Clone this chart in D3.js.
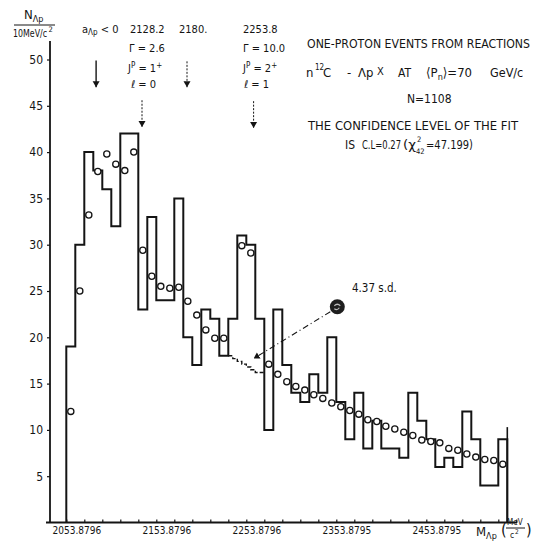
<!DOCTYPE html>
<html>
<head>
<meta charset="utf-8">
<script src="https://cdn.jsdelivr.net/npm/d3@7/dist/d3.min.js"></script>
<style>
  body { margin: 0; background: #fff; }
  svg text { font-family: "DejaVu Sans Condensed", "DejaVu Sans", sans-serif; fill: #141414; }
</style>
</head>
<body>
<svg width="533" height="549"></svg>
<script>
// bins of 10 MeV starting at the Λp threshold
const binStart = 2053.8796
const binWidth = 10
const counts = [19, 30, 40, 38, 36, 32, 42, 42, 23, 33, 24, 24, 35, 20, 17, 23, 22, 18, 22, 31,
  30, 22, 10, 23, 17, 14, 13, 16, 14, 20, 13, 9, 14, 8, 11, 8, 8, 7, 14, 11,
  9, 6, 7, 6, 12, 9, 4, 4, 9]
// fit values (open circles), null = not drawn
const fitValues = [12.0, 25.0, 33.2, 37.9, 39.8, 38.7, 38.0, 40.0, 29.4, 26.6, 25.5, 25.3, 25.4, 23.9, 22.4, 20.8, 19.9, 19.9, null, 29.9,
  29.1, null, 17.1, 16.0, 15.2, 14.7, 14.3, 13.8, 13.4, 12.9, 12.5, 12.1, 11.7, 11.1, 10.9, 10.4, 10.1, 9.75, 9.4, 8.9,
  8.75, 8.6, 8.0, 7.8, 7.4, 7.06, 6.8, 6.7, 6.3]
// background-only fit under the 2253.8 peak, half-bin steps from bin 19
const bgSteps = [18.0, 17.7, 17.4, 17.1, 16.8, 16.5, 16.2, 16.2]
const bgStartBin = 18
// x tick labels
const xLabelMasses = [2053.8796, 2153.8796, 2253.8796, 2353.8796, 2453.8796]
const xLabelTexts = ["2053.8796", "2153.8796", "2253.8796", "2353.8795", "2453.8795"]
const yTickValues = [5, 10, 15, 20, 25, 30, 35, 40, 45, 50]
// arrows at the top: mass, dashed?, top, bottom (in counts)
const arrowMasses = [2087, 2138, 2188, 2262]
const arrowDashed = [false, true, true, true]
const arrowTop = [49.9, 45.6, 49.8, 45.5]
const arrowBottom = [47.0, 42.7, 47.0, 42.6]
// the 4.37 s.d. marker
const blobMass = 2355
const blobValue = 23.3
const pointerEndMass = 2262
const pointerEndValue = 17.7

const svg = d3.select("svg")

const x = d3.scaleLinear()
  .domain([binStart, binStart + binWidth * counts.length])
  .range([66.3, 507.3])

const y = d3.scaleLinear()
  .domain([0, 50])
  .range([522.5, 59.5])

// arrow marker
svg.append("defs").append("marker")
  .attr("id", "head")
  .attr("viewBox", "0 0 6 8")
  .attr("refX", 6).attr("refY", 4)
  .attr("markerWidth", 6).attr("markerHeight", 8)
  .attr("markerUnits", "userSpaceOnUse")
  .attr("orient", "auto")
  .append("path").attr("d", "M0,0.5 L6,4 L0,7.5 z").attr("fill", "#141414")

// axis frame
svg.append("line")
  .attr("x1", 50).attr("x2", 50).attr("y1", y(0)).attr("y2", 41)
  .attr("stroke", "#141414").attr("stroke-width", 1.8)
svg.append("line")
  .attr("x1", 46).attr("x2", 517).attr("y1", y(0)).attr("y2", y(0))
  .attr("stroke", "#141414").attr("stroke-width", 1.8)

// y axis ticks
const axisY = d3.axisLeft(y)
  .tickValues(yTickValues)
  .tickSize(3)
  .tickPadding(4)
svg.append("g")
  .attr("transform", "translate(50,0)")
  .call(axisY)
  .call(g => g.select(".domain").remove())
  .call(g => g.selectAll("line").attr("stroke", "#141414").attr("stroke-width", 1.2))
  .call(g => g.selectAll("text").attr("font-size", 12).attr("fill", "#141414")
    .attr("font-family", "DejaVu Sans Condensed"))

// x axis small ticks every 20 MeV, pointing up
const minorTicks = d3.range(binStart, binStart + 500.1, 20)
svg.append("g")
  .attr("transform", `translate(0,${y(0)})`)
  .call(d3.axisBottom(x).tickValues(minorTicks).tickSize(-3).tickFormat(""))
  .call(g => g.select(".domain").remove())
  .call(g => g.selectAll("line").attr("stroke", "#141414").attr("stroke-width", 1.2))

// x axis labels
svg.append("g")
  .attr("transform", `translate(0,${y(0)})`)
  .call(d3.axisBottom(x).tickValues(xLabelMasses).tickSize(0).tickPadding(4)
    .tickFormat((d, i) => xLabelTexts[i]))
  .call(g => g.select(".domain").remove())
  .call(g => g.selectAll("text").attr("font-size", 10).attr("dx", 10).attr("fill", "#141414")
    .attr("font-family", "DejaVu Sans Condensed"))

// histogram outline
const histPts = [[binStart, 0]]
counts.forEach((c, i) => histPts.push([binStart + i * binWidth, c]))
const binEnd = binStart + counts.length * binWidth
histPts.push([binEnd, counts[counts.length - 1]])
histPts.push([binEnd, 0])

const stepLine = d3.line()
  .x(d => x(d[0]))
  .y(d => y(d[1]))
  .curve(d3.curveStepAfter)

svg.append("path")
  .attr("d", stepLine(histPts))
  .attr("fill", "none")
  .attr("stroke", "#141414")
  .attr("stroke-width", 2)
  .attr("stroke-linejoin", "miter")

// last edge sticks out above the last bin
svg.append("line")
  .attr("x1", x(binEnd)).attr("x2", x(binEnd))
  .attr("y1", y(0)).attr("y2", y(10.3))
  .attr("stroke", "#141414").attr("stroke-width", 1.6)

// background staircase (dashed)
const bgPts = bgSteps.map((v, i) => [binStart + bgStartBin * binWidth + i * binWidth / 2, v])
bgPts.push([binStart + (bgStartBin + bgSteps.length / 2) * binWidth, bgSteps[bgSteps.length - 1]])
svg.append("path")
  .attr("d", stepLine(bgPts))
  .attr("fill", "none")
  .attr("stroke", "#141414")
  .attr("stroke-width", 1.4)
  .attr("stroke-dasharray", "4,2")

// fit circles
svg.append("g")
  .selectAll("circle")
  .data(fitValues.map((v, i) => ({ v, i })).filter(d => d.v !== null))
  .enter()
  .append("circle")
  .attr("cx", d => x(binStart + (d.i + 0.5) * binWidth))
  .attr("cy", d => y(d.v))
  .attr("r", 3.1)
  .attr("fill", "#fff")
  .attr("stroke", "#141414")
  .attr("stroke-width", 1.3)

// significance marker and pointer
svg.append("line")
  .attr("x1", x(blobMass) - 7).attr("y1", y(blobValue) + 5)
  .attr("x2", x(pointerEndMass)).attr("y2", y(pointerEndValue))
  .attr("stroke", "#141414").attr("stroke-width", 1.1)
  .attr("stroke-dasharray", "6,3,1,3")
  .attr("marker-end", "url(#head)")
svg.append("circle")
  .attr("cx", x(blobMass)).attr("cy", y(blobValue)).attr("r", 7.5)
  .attr("fill", "#1e1e1e")
svg.append("path")
  .attr("d", `M${x(blobMass) - 3},${y(blobValue) - 1} q3,-3 6,0 M${x(blobMass) - 3},${y(blobValue) + 2} q3,2 5,-1`)
  .attr("fill", "none").attr("stroke", "#bbb").attr("stroke-width", 1.2)
svg.append("text")
  .attr("x", 352).attr("y", 292)
  .attr("font-size", 11.5)
  .text("4.37 s.d.")

// arrows at top
arrowMasses.forEach((m, i) => {
  svg.append("line")
    .attr("x1", x(m)).attr("x2", x(m))
    .attr("y1", y(arrowTop[i])).attr("y2", y(arrowBottom[i]))
    .attr("stroke", "#141414")
    .attr("stroke-width", arrowDashed[i] ? 1 : 1.4)
    .attr("stroke-dasharray", arrowDashed[i] ? "2,1.5" : null)
    .attr("marker-end", "url(#head)")
})

// helper for plain text
const label = (tx, ty, size, str) => svg.append("text")
  .attr("x", tx).attr("y", ty).attr("font-size", size).text(str)

// y axis title
const yt = svg.append("text").attr("x", 24).attr("y", 19).attr("font-size", 13)
yt.append("tspan").text("N")
yt.append("tspan").attr("font-size", 9).attr("dy", 3).text("Λp")
svg.append("line").attr("x1", 14).attr("x2", 55).attr("y1", 25).attr("y2", 25)
  .attr("stroke", "#141414").attr("stroke-width", 1)
label(13, 37, 10, "10MeV/c").attr("textLength", 34).attr("lengthAdjust", "spacingAndGlyphs")
label(48.5, 32, 7.5, "2")

// x axis title
const xt = svg.append("text").attr("x", 476).attr("y", 536).attr("font-size", 13)
xt.append("tspan").text("M")
xt.append("tspan").attr("font-size", 9).attr("dy", 3).text("Λp")
label(501, 535, 16, "(").attr("font-weight", 300)
label(526, 535, 16, ")").attr("font-weight", 300)
label(507, 525, 8, "MeV")
label(510, 538, 8.5, "c")
label(515, 534, 6.5, "2")
svg.append("line").attr("x1", 506).attr("x2", 525).attr("y1", 528).attr("y2", 528)
  .attr("stroke", "#141414").attr("stroke-width", 1)

// left annotations
const a0 = svg.append("text").attr("x", 82).attr("y", 33).attr("font-size", 11)
a0.append("tspan").text("a")
a0.append("tspan").attr("font-size", 8).attr("dy", 2).text("Λp")
a0.append("tspan").attr("dy", -2).text(" < 0")

label(130, 33, 11, "2128.2")
label(129, 52, 11, "Γ = 2.6")
const jp1 = svg.append("text").attr("x", 128).attr("y", 72).attr("font-size", 11)
jp1.append("tspan").text("J")
jp1.append("tspan").attr("font-size", 8).attr("dy", -4).text("P")
jp1.append("tspan").attr("dy", 4).text(" = 1")
jp1.append("tspan").attr("font-size", 8).attr("dy", -4).text("+")
label(131, 88, 11, "ℓ = 0")

label(179, 33, 11, "2180.")

label(243, 33, 11, "2253.8")
label(243, 52, 11, "Γ = 10.0")
const jp2 = svg.append("text").attr("x", 243).attr("y", 72).attr("font-size", 11)
jp2.append("tspan").text("J")
jp2.append("tspan").attr("font-size", 8).attr("dy", -4).text("P")
jp2.append("tspan").attr("dy", 4).text(" = 2")
jp2.append("tspan").attr("font-size", 8).attr("dy", -4).text("+")
label(244, 88, 11, "ℓ = 1")

// right-hand text block
label(307, 48, 12, "ONE-PROTON EVENTS FROM REACTIONS")
  .attr("textLength", 223).attr("lengthAdjust", "spacingAndGlyphs")

const r2 = svg.append("text").attr("y", 77).attr("font-size", 13)
r2.append("tspan").attr("x", 306).text("n")
r2.append("tspan").attr("x", 315).attr("font-size", 8).attr("dy", -7).text("12")
r2.append("tspan").attr("x", 323).attr("dy", 7).text("C")
r2.append("tspan").attr("x", 347).text("-")
r2.append("tspan").attr("x", 358).text("Λp")
r2.append("tspan").attr("x", 377).attr("font-size", 11).attr("dy", -2).text("X")
r2.append("tspan").attr("x", 398).attr("dy", 2).attr("font-size", 12).text("AT")
r2.append("tspan").attr("x", 426).text("⟨P")
r2.append("tspan").attr("font-size", 9).attr("dy", 3).text("n")
r2.append("tspan").attr("dy", -3).text("⟩=70")
r2.append("tspan").attr("x", 490).attr("font-size", 12.5).text("GeV/c")

label(407, 103, 12, "N=1108")

label(308, 130, 12, "THE CONFIDENCE LEVEL OF THE FIT")
  .attr("textLength", 210).attr("lengthAdjust", "spacingAndGlyphs")

label(345, 149, 12, "IS")
label(362, 149, 12, "C.L=0.27").attr("textLength", 39).attr("lengthAdjust", "spacingAndGlyphs")
label(403, 149, 12, "(χ").attr("textLength", 13).attr("lengthAdjust", "spacingAndGlyphs")
label(417, 142, 7.5, "2")
label(416, 154, 7.5, "42")
label(426, 149, 12, "=47.199)").attr("textLength", 47).attr("lengthAdjust", "spacingAndGlyphs")
</script>
</body>
</html>
